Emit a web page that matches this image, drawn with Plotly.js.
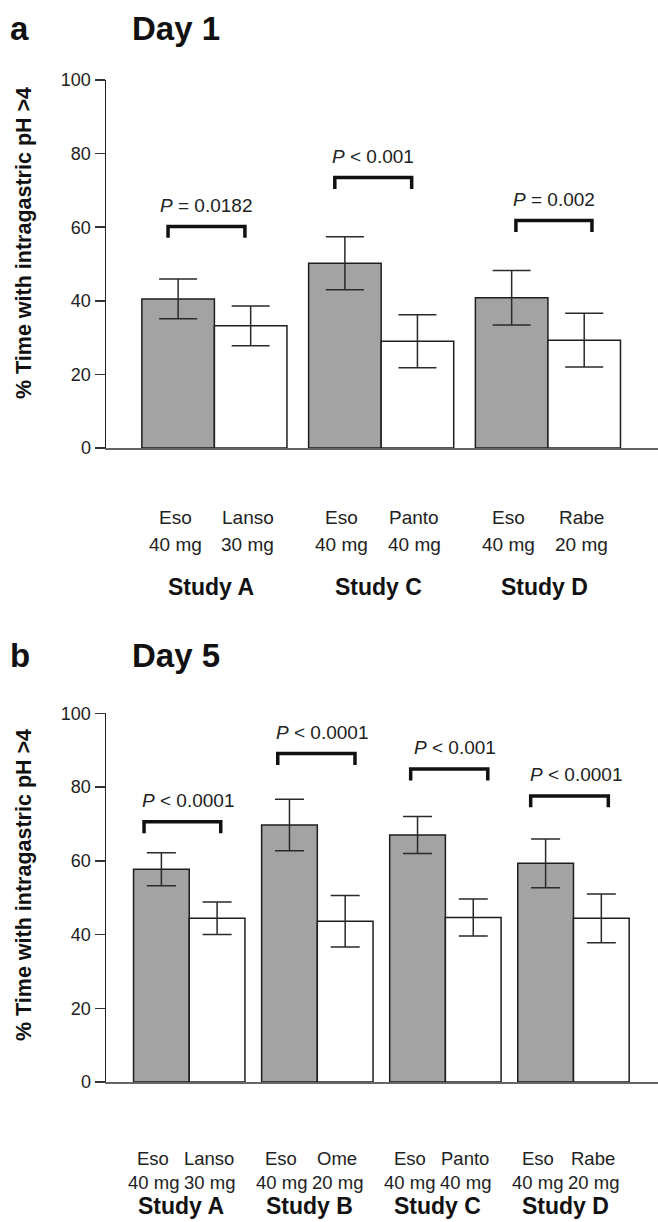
<!DOCTYPE html>
<html>
<head>
<meta charset="utf-8">
<script src="https://cdn.plot.ly/plotly-3.0.1.min.js"></script>
<style>html,body{margin:0;padding:0;background:#fff}#chart{width:658px;height:1222px}</style>
</head>
<body>
<div id="chart"></div>
<script>
// ---------- data ----------
const day1Studies = ['Study A', 'Study C', 'Study D'];
const day1Eso = [40.5, 50.2, 40.8];
const day1EsoErr = [5.4, 7.2, 7.4];
const day1Comp = [33.2, 29.0, 29.3];
const day1CompErr = [5.4, 7.2, 7.3];
const day1CompNames = ['Lanso', 'Panto', 'Rabe'];
const day1CompDoses = ['30 mg', '40 mg', '20 mg'];
const day1PText = ['<i>P</i> = 0.0182', '<i>P</i> &lt; 0.001', '<i>P</i> = 0.002'];
const day1BracketY = [60.2, 73.5, 61.8];

const day5Studies = ['Study A', 'Study B', 'Study C', 'Study D'];
const day5Eso = [57.7, 69.7, 67.0, 59.3];
const day5EsoErr = [4.5, 7.0, 5.0, 6.6];
const day5Comp = [44.4, 43.6, 44.6, 44.4];
const day5CompErr = [4.4, 7.0, 5.0, 6.6];
const day5CompNames = ['Lanso', 'Ome', 'Panto', 'Rabe'];
const day5CompDoses = ['30 mg', '20 mg', '40 mg', '20 mg'];
const day5PText = ['<i>P</i> &lt; 0.0001', '<i>P</i> &lt; 0.0001', '<i>P</i> &lt; 0.001', '<i>P</i> &lt; 0.0001'];
const day5BracketY = [70.6, 89.1, 84.9, 77.6];

const esoName = 'Eso';
const esoDose = '40 mg';
const yTicks = [0, 20, 40, 60, 80, 100];
const yTitle = '% Time with intragastric pH &gt;4';

// ---------- layout constants (positions/styles) ----------
const FONT = 'Liberation Sans, Arial, Helvetica, sans-serif';
const W = 658, H = 1222;
const BARGAP = 0.13;
const half = (1 - BARGAP) / 4;
const day1BracketSpan = [[-0.278, 0.183], [-0.278, 0.183], [-0.192, 0.264]];
const day5BracketSpan = [[-0.353, 0.246], [-0.309, 0.294], [-0.271, 0.331], [-0.334, 0.272]];
const GRAY = '#a3a3a3';
const EDGE = '#1e1e1e';

function py(px) { return 1 - px / H; }
function pxX(px) { return px / W; }

const traces = [];
function addPanel(xa, ya, studies, eso, esoErr, comp, compErr, capW) {
  traces.push({
    type: 'bar', x: studies, y: eso, xaxis: xa, yaxis: ya, name: 'Eso',
    marker: {color: GRAY, line: {color: EDGE, width: 1.5}},
    error_y: {type: 'data', array: esoErr, visible: true, color: '#2a2a2a', thickness: 1.5, width: capW}
  });
  traces.push({
    type: 'bar', x: studies, y: comp, xaxis: xa, yaxis: ya, name: 'Comparator',
    marker: {color: '#ffffff', line: {color: EDGE, width: 1.5}},
    error_y: {type: 'data', array: compErr, visible: true, color: '#2a2a2a', thickness: 1.5, width: capW}
  });
}
addPanel('x', 'y', day1Studies, day1Eso, day1EsoErr, day1Comp, day1CompErr, 19);
addPanel('x2', 'y2', day5Studies, day5Eso, day5EsoErr, day5Comp, day5CompErr, 14.5);

const shapes = [];
const annotations = [];

function addPanelDecor(xr, yr, studies, compNames, compDoses, pText, bracketY, spans, rows, pXShift) {
  studies.forEach((s, i) => {
    const [a, b] = spans[i];
    const yb = bracketY[i];
    shapes.push({
      type: 'path', xref: xr, yref: yr,
      path: `M ${i + a},${yb - 3.1} L ${i + a},${yb} L ${i + b},${yb} L ${i + b},${yb - 3.1}`,
      line: {color: '#111', width: 3.5}
    });
    annotations.push({
      xref: xr, yref: yr, x: i + (a + b) / 2, y: yb, yshift: 21, xshift: pXShift,
      text: pText[i], showarrow: false, xanchor: 'center', yanchor: 'middle',
      font: {family: FONT, size: 19, color: '#222'}
    });
    const cols = [[i - half, esoName, esoDose], [i + half, compNames[i], compDoses[i]]];
    cols.forEach(([xc, nm, ds]) => {
      annotations.push({xref: xr, yref: yr, x: xc, y: 0, yshift: rows.name, xshift: rows.dx,
        text: nm, showarrow: false, xanchor: 'center', yanchor: 'middle',
        font: {family: FONT, size: rows.fs, color: '#222'}});
      annotations.push({xref: xr, yref: yr, x: xc, y: 0, yshift: rows.dose, xshift: rows.dx,
        text: ds, showarrow: false, xanchor: 'center', yanchor: 'middle',
        font: {family: FONT, size: rows.fs, color: '#222'}});
    });
    annotations.push({xref: xr, yref: yr, x: i, y: 0, yshift: rows.study, xshift: rows.dx,
      text: '<b>' + s + '</b>', showarrow: false, xanchor: 'center', yanchor: 'middle',
      font: {family: FONT, size: 23, color: '#111'}});
  });
}
addPanelDecor('x', 'y', day1Studies, day1CompNames, day1CompDoses, day1PText, day1BracketY, day1BracketSpan,
  {name: -69, dose: -96.5, study: -138.5, dx: -3, fs: 19}, 0);
addPanelDecor('x2', 'y2', day5Studies, day5CompNames, day5CompDoses, day5PText, day5BracketY, day5BracketSpan,
  {name: -76, dose: -100, study: -124, dx: -8, fs: 18.5}, 6);

// panel letters, titles, y titles
[['a', 'Day 1', 28, 243], ['b', 'Day 5', 655, 885]].forEach(([lt, ttl, yc, ytc]) => {
  annotations.push({xref: 'paper', yref: 'paper', x: pxX(8), y: py(yc), text: '<b>' + lt + '</b>',
    showarrow: false, xanchor: 'left', yanchor: 'middle', font: {family: FONT, size: 33, color: '#111'}});
  annotations.push({xref: 'paper', yref: 'paper', x: pxX(130), y: py(yc), text: '<b>' + ttl + '</b>',
    showarrow: false, xanchor: 'left', yanchor: 'middle', font: {family: FONT, size: 33, color: '#111'}});
  annotations.push({xref: 'paper', yref: 'paper', x: pxX(24), y: py(ytc), text: '<b>' + yTitle + '</b>',
    textangle: -90, showarrow: false, xanchor: 'center', yanchor: 'middle',
    font: {family: FONT, size: 21.5, color: '#111'}});
});

function yAxis(domain, anchor) {
  return {
    domain: domain, anchor: anchor, range: [0, 100], tickvals: yTicks, ticktext: yTicks.map(String),
    showgrid: false, zeroline: false, showline: true, linecolor: '#222', linewidth: 1.5,
    ticks: 'outside', ticklen: 10, tickwidth: 1.5, tickcolor: '#333',
    tickfont: {family: FONT, size: 18, color: '#222'}, fixedrange: true
  };
}
function xAxis(range, anchor) {
  return {
    domain: [106 / W, 1], anchor: anchor, type: 'category', range: range,
    showgrid: false, zeroline: false, showline: true, linecolor: '#666', linewidth: 2,
    ticks: '', showticklabels: false, fixedrange: true
  };
}

const layout = {
  width: W, height: H, margin: {l: 0, r: 0, t: 0, b: 0},
  paper_bgcolor: '#fff', plot_bgcolor: '#fff', showlegend: false,
  barmode: 'group', bargap: BARGAP, bargroupgap: 0,
  xaxis: xAxis([-0.65, 2.66], 'y'),
  yaxis: yAxis([py(448), py(80)], 'x'),
  xaxis2: xAxis([-0.65, 3.66], 'y2'),
  yaxis2: yAxis([py(1082), py(713.3)], 'x2'),
  shapes: shapes, annotations: annotations,
  font: {family: FONT}
};

Plotly.newPlot('chart', traces, layout, {staticPlot: true, displayModeBar: false});
</script>
</body>
</html>
